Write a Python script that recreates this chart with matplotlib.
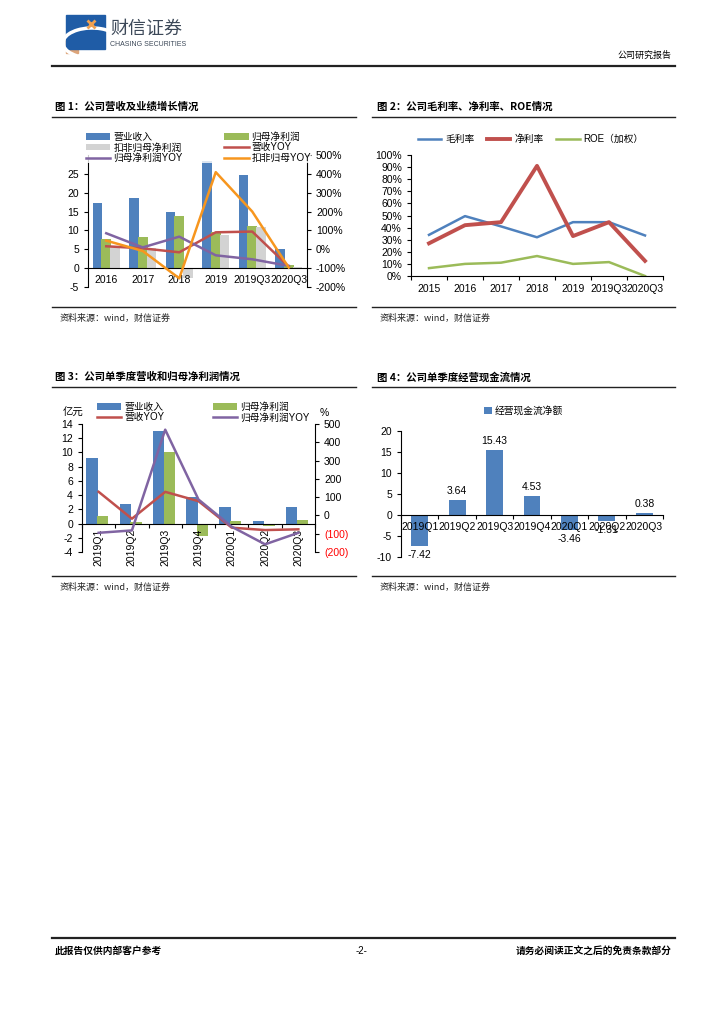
import matplotlib
matplotlib.use('Agg')
import matplotlib.pyplot as plt
import numpy as np
from matplotlib.patches import Rectangle, Arc

plt.rcParams['font.family'] = ['Liberation Sans', 'Noto Sans CJK SC', 'DejaVu Sans']
plt.rcParams['font.size'] = 7.5
plt.rcParams['axes.linewidth'] = 0.8
plt.rcParams['axes.unicode_minus'] = False

# ---- 数据 ----
years1 = ['2016', '2017', '2018', '2019', '2019Q3', '2020Q3']
rev1 = [17.3, 18.6, 15.0, 28.5, 24.7, 5.0]
np1 = [7.6, 8.3, 13.9, 9.5, 11.2, 0.9]
npded1 = [5.6, 5.3, -2.7, 8.9, 10.8, 0.3]
rev_yoy1 = [16, 5, -16, 90, 94, -92]
np_yoy1 = [85, 10, 67, -32, -53, -88]
ded_yoy1 = [46, -9, -154, 409, 200, -97]

years2 = ['2015', '2016', '2017', '2018', '2019', '2019Q3', '2020Q3']
gross2 = [0.34, 0.495, 0.41, 0.32, 0.445, 0.445, 0.335]
net2 = [0.27, 0.42, 0.445, 0.91, 0.33, 0.445, 0.125]
roe2 = [0.065, 0.10, 0.11, 0.165, 0.10, 0.115, 0.0]

quarters = ['2019Q1', '2019Q2', '2019Q3', '2019Q4', '2020Q1', '2020Q2', '2020Q3']
rev3 = [9.2, 2.7, 13.0, 3.7, 2.3, 0.35, 2.3]
np3 = [1.0, 0.25, 10.1, -1.7, 0.4, -0.3, 0.5]
rev_yoy3 = [129, -18, 129, 78, -67, -80, -76]
np_yoy3 = [-95, -82, 469, 87, -62, -158, -95]

cash4 = [-7.42, 3.64, 15.43, 4.53, -3.46, -1.31, 0.38]

BLUE = '#4F81BD'
GREEN = '#9BBB59'
GREY = '#D3D3D3'
RED = '#C0504D'
PURPLE = '#8064A2'
ORANGE = '#F7961E'
CJK = ['Noto Sans CJK SC', 'DejaVu Sans']

W, H = 724, 1024
fig = plt.figure(figsize=(7.24, 10.24), dpi=100)
page = fig.add_axes([0, 0, 1, 1])
page.set_xlim(0, W)
page.set_ylim(H, 0)
page.axis('off')


def box(l, t, r, b):
    a = fig.add_axes([l / W, 1 - b / H, (r - l) / W, (b - t) / H])
    a.set_facecolor('none')
    return a


def fpos(x, y):
    return (x / W, 1 - y / H)


# ---- 页眉 ----
page.add_patch(Rectangle((66, 37), 12, 16, color='#DDA57A', zorder=1))
page.add_patch(Rectangle((66, 15), 39, 34, color='#1F5CA6', zorder=2))
page.add_patch(Arc((92, 43), 58, 30, theta1=140, theta2=330, color='white', lw=2.5, zorder=3))
page.plot([91], [24], marker='x', ms=6, mew=2, color='#F0A050', zorder=4)
page.text(110, 29, '财信证券', fontsize=13, color='#3C4858', va='center', family=CJK)
page.text(110, 44, 'CHASING SECURITIES', fontsize=5, color='#3C4858', va='center')
page.text(672, 55, '公司研究报告', fontsize=6.5, ha='right', va='center', family=CJK)
page.plot([52, 675], [66, 66], color='#222222', lw=1.6)

# ---- 标题和来源 ----
titles = [(55, 107, '图 1：公司营收及业绩增长情况'), (377, 107, '图 2：公司毛利率、净利率、ROE情况'),
          (55, 377, '图 3：公司单季度营收和归母净利润情况'), (377, 377, '图 4：公司单季度经营现金流情况')]
for x, y, s in titles:
    page.text(x, y, s, fontsize=7.5, fontweight='bold', va='center', family=CJK)
for x0, x1 in [(52, 356), (372, 675)]:
    for y in (117, 307, 387, 576):
        page.plot([x0, x1], [y, y], color='#222222', lw=1.0)
for x in (60, 380):
    for y in (318, 587):
        page.text(x, y, '资料来源：wind，财信证券', fontsize=6.5, va='center', family=CJK, color='#222222')

# ---- 页脚 ----
page.plot([52, 675], [938, 938], color='#222222', lw=1.6)
page.text(55, 951, '此报告仅供内部客户参考', fontsize=7, fontweight='bold', va='center', family=CJK)
page.text(362, 951, '-2-', fontsize=7, ha='center', va='center')
page.text(672, 951, '请务必阅读正文之后的免责条款部分', fontsize=7, fontweight='bold', ha='right', va='center', family=CJK)

# ---- 图1 ----
ax1 = box(88, 155, 307, 287)
x6 = np.arange(len(years1))
b1 = ax1.bar(x6 - 0.24, rev1, 0.27, color=BLUE, label='营业收入')
b2 = ax1.bar(x6, np1, 0.27, color=GREEN, label='归母净利润')
b3 = ax1.bar(x6 + 0.24, npded1, 0.27, color=GREY, label='扣非归母净利润')
ax1.set_xlim(-0.5, 5.5)
ax1.set_ylim(-5, 30)
ax1.set_yticks(range(-5, 30, 5))
ax1.set_xticks(x6)
ax1.set_xticklabels(years1)
ax1.tick_params(axis='x', length=0, pad=5)
ax1.tick_params(axis='y', length=3)
ax1.spines['top'].set_visible(False)
ax1.spines['right'].set_visible(False)
ax1.spines['bottom'].set_position(('data', 0))
ax1r = ax1.twinx()
l1, = ax1r.plot(x6, rev_yoy1, color=RED, lw=1.8, label='营收YOY')
l2, = ax1r.plot(x6, np_yoy1, color=PURPLE, lw=1.8, label='归母净利润YOY')
l3, = ax1r.plot(x6, ded_yoy1, color=ORANGE, lw=1.8, label='扣非归母YOY')
ax1r.set_ylim(-200, 500)
ax1r.set_yticks(range(-200, 600, 100))
ax1r.set_yticklabels(['%d%%' % v for v in range(-200, 600, 100)])
ax1r.tick_params(axis='y', length=3)
for s in ('top', 'bottom', 'left'):
    ax1r.spines[s].set_visible(False)
ax1r.legend([b1, b3, l2, b2, l1, l3],
            ['营业收入', '扣非归母净利润', '归母净利润YOY', '归母净利润', '营收YOY', '扣非归母YOY'],
            ncol=2, loc='upper left', bbox_to_anchor=fpos(86, 132), bbox_transform=fig.transFigure,
            frameon=True, facecolor='white', edgecolor='none', fancybox=False,
            fontsize=7, handlelength=2.5, handleheight=0.6, labelspacing=0.05,
            columnspacing=4.3, borderpad=0, handletextpad=0.3, borderaxespad=0)

# ---- 图2 ----
ax2 = box(411, 155, 663, 276)
x7 = np.arange(len(years2))
ax2.plot(x7, gross2, color=BLUE, lw=1.8, label='毛利率')
ax2.plot(x7, net2, color=RED, lw=2.8, label='净利率')
ax2.plot(x7, roe2, color=GREEN, lw=1.8, label='ROE（加权）')
ax2.set_xlim(-0.5, 6.5)
ax2.set_ylim(0, 1)
ax2.set_yticks(np.arange(0, 1.01, 0.1))
ax2.set_yticklabels(['%d%%' % round(v * 100) for v in np.arange(0, 1.01, 0.1)])
ax2.set_xticks(np.arange(-0.5, 7, 1))
ax2.set_xticklabels([])
ax2.set_xticks(x7, minor=True)
ax2.set_xticklabels(years2, minor=True)
ax2.tick_params(axis='x', which='major', length=3)
ax2.tick_params(axis='x', which='minor', length=0, pad=6)
ax2.tick_params(axis='y', length=3)
ax2.spines['top'].set_visible(False)
ax2.spines['right'].set_visible(False)
ax2.legend(ncol=3, loc='center left', bbox_to_anchor=fpos(418, 139), bbox_transform=fig.transFigure,
           frameon=False, fontsize=7, handlelength=2.4, columnspacing=1.3, handletextpad=0.4,
           borderpad=0, borderaxespad=0)

# ---- 图3 ----
ax3 = box(82, 424, 315, 552)
x7 = np.arange(len(quarters))
c1 = ax3.bar(x7 - 0.2, rev3, 0.34, color=BLUE)
c2 = ax3.bar(x7 + 0.12, np3, 0.34, color=GREEN)
ax3.set_xlim(-0.5, 6.5)
ax3.set_ylim(-4, 14)
ax3.set_yticks(range(-4, 15, 2))
ax3.spines['top'].set_visible(False)
ax3.spines['right'].set_visible(False)
ax3.spines['bottom'].set_position(('data', 0))
ax3.set_xticks(np.arange(-0.5, 7, 1))
ax3.set_xticklabels([])
ax3.set_xticks(x7, minor=True)
ax3.set_xticklabels(quarters, minor=True, rotation=90)
ax3.tick_params(axis='x', which='major', length=3)
ax3.tick_params(axis='x', which='minor', length=0, pad=4)
ax3.tick_params(axis='y', length=3)
ax3r = ax3.twinx()
m1, = ax3r.plot(x7, rev_yoy3, color=RED, lw=1.8)
m2, = ax3r.plot(x7, np_yoy3, color=PURPLE, lw=1.8)
ax3r.set_ylim(-200, 500)
rt = list(range(-200, 600, 100))
ax3r.set_yticks(rt)
ax3r.set_yticklabels(['(%d)' % -v if v < 0 else '%d' % v for v in rt])
for v, lab in zip(rt, ax3r.get_yticklabels()):
    if v < 0:
        lab.set_color('red')
ax3r.tick_params(axis='y', length=3)
for s in ('top', 'bottom', 'left'):
    ax3r.spines[s].set_visible(False)
ax3r.legend([c1, m1, c2, m2], ['营业收入', '营收YOY', '归母净利润', '归母净利润YOY'],
            ncol=2, loc='upper left', bbox_to_anchor=fpos(97, 402), bbox_transform=fig.transFigure,
            frameon=False, fontsize=7, handlelength=2.5, handleheight=0.6, labelspacing=0.05,
            columnspacing=5.0, borderpad=0, handletextpad=0.3, borderaxespad=0)
page.text(63, 413, '亿元', fontsize=7.5, va='center', family=CJK)
page.text(320, 413, '%', fontsize=7.5, va='center')

# ---- 图4 ----
ax4 = box(401, 431, 663, 557)
bars4 = ax4.bar(x7, cash4, 0.45, color=BLUE, label='经营现金流净额')
ax4.bar_label(bars4, labels=['%.2f' % v for v in cash4], padding=3, fontsize=7.5)
ax4.set_xlim(-0.5, 6.5)
ax4.set_ylim(-10, 20)
ax4.set_yticks(range(-10, 21, 5))
ax4.spines['top'].set_visible(False)
ax4.spines['right'].set_visible(False)
ax4.spines['bottom'].set_position(('data', 0))
ax4.set_xticks(np.arange(-0.5, 7, 1))
ax4.set_xticklabels([])
ax4.set_xticks(x7, minor=True)
ax4.set_xticklabels(quarters, minor=True)
ax4.tick_params(axis='x', which='major', length=3)
ax4.tick_params(axis='x', which='minor', length=0, pad=5)
ax4.tick_params(axis='y', length=3)
ax4.legend(loc='center left', bbox_to_anchor=fpos(484, 411), bbox_transform=fig.transFigure,
           frameon=False, fontsize=7, handlelength=0.8, handleheight=0.8, handletextpad=0.3,
           borderpad=0, borderaxespad=0)

fig.savefig('out.png', dpi=100)
